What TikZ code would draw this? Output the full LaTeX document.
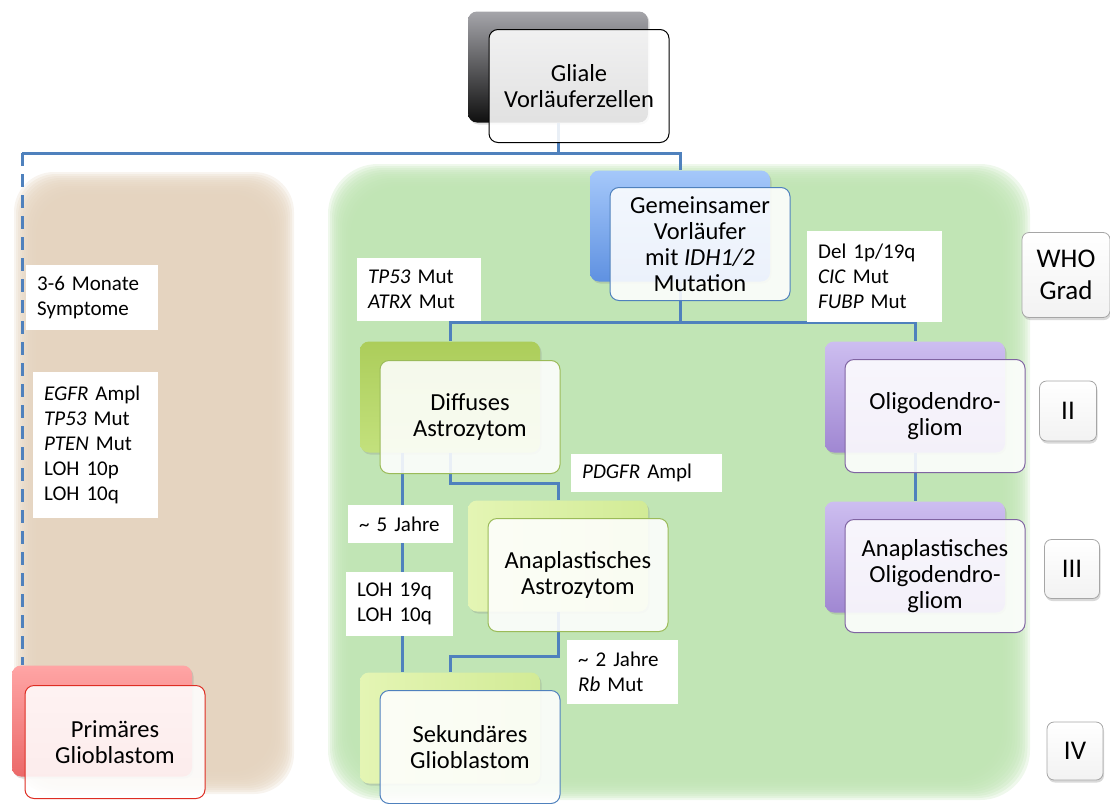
\documentclass[tikz,border=0pt]{standalone}
\usepackage{fontspec}
\setmainfont{Carlito}
\usetikzlibrary{calc,shadows}

\definecolor{linkblue}{RGB}{79,129,189}
\definecolor{beigebg}{RGB}{228,211,190}
\definecolor{greenbg}{RGB}{191,228,179}
\definecolor{grayT}{RGB}{165,165,170}
\definecolor{grayB}{RGB}{15,15,15}
\definecolor{blueT}{RGB}{165,200,250}
\definecolor{blueB}{RGB}{95,145,225}
\definecolor{oliveT}{RGB}{172,205,90}
\definecolor{oliveB}{RGB}{195,225,125}
\definecolor{limeT}{RGB}{210,235,150}
\definecolor{limeB}{RGB}{228,245,180}
\definecolor{lilaT}{RGB}{205,190,240}
\definecolor{lilaB}{RGB}{160,135,210}
\definecolor{redT}{RGB}{255,165,165}
\definecolor{redB}{RGB}{235,105,105}
\definecolor{oliveline}{RGB}{155,187,89}
\definecolor{lilaline}{RGB}{128,100,162}
\definecolor{redline}{RGB}{222,45,35}

\tikzset{
  backbox/.style={rounded corners=9pt, minimum width=180pt, minimum height=111pt, inner sep=0pt,
    drop shadow={opacity=0.25, shadow xshift=1.5pt, shadow yshift=-2pt}},
  frontbox/.style={draw=#1, line width=1pt, rounded corners=9pt, minimum width=180pt, minimum height=113pt,
    inner sep=2pt, fill=white, fill opacity=0.88, text opacity=1, align=center,
    font=\fontsize{24.5}{26}\selectfont},
  note/.style={fill=white, anchor=north west, align=left, inner xsep=11pt, inner ysep=0pt,
    font=\fontsize{21}{25}\selectfont},
  gradebox/.style={draw=gray!70, line width=0.8pt, rounded corners=7pt, top color=white, bottom color=gray!10,
    inner sep=0pt, align=center, font=\fontsize{27}{32}\selectfont,
    drop shadow={opacity=0.3, shadow xshift=1pt, shadow yshift=-2.5pt}},
  link/.style={draw=linkblue, line width=3pt}
}

\begin{document}
\begin{tikzpicture}[x=1pt,y=-1pt]
\useasboundingbox (0,0) rectangle (1110,803);

% soft backgrounds
\foreach \k in {0,...,11} {
  \fill[beigebg, fill opacity=0.25, rounded corners=40pt] (14+2*\k,172+2*\k) rectangle (294-2*\k,794-2*\k);
  \fill[greenbg, fill opacity=0.25, rounded corners=50pt] (328+2*\k,164+2*\k) rectangle (1030-2.5*\k,800-2*\k);
}

% back boxes
\node[backbox, top color=grayT, bottom color=grayB] (glialeB) at (558,67) {};
\node[backbox, top color=blueT, bottom color=blueB] (gemB) at (680,226) {};
\node[backbox, top color=oliveT, bottom color=oliveB] (diffB) at (450,397) {};
\node[backbox, left color=limeB, right color=limeT] (anaB) at (558,556) {};
\node[backbox, left color=limeB, right color=limeT] (sekB) at (450,728) {};
\node[backbox, top color=redT, bottom color=redB] (primB) at (102,721) {};
\node[backbox, top color=lilaT, bottom color=lilaB] (oliB) at (915,397) {};
\node[backbox, top color=lilaT, bottom color=lilaB] (aoliB) at (915,557) {};

% links
\coordinate (leftTurn) at (22,153);
\draw[link] (glialeB.south) -- ++(0,31) -| (gemB.north);
\draw[link] (glialeB.south) |- (leftTurn);
\draw[link, dash pattern=on 13pt off 8pt] (leftTurn) -- (primB.north -| leftTurn);
\draw[link] (gemB.south) -- ++(0,41) -| (diffB.north);
\draw[link] (gemB.south) -- ++(0,41) -| (oliB.north);
\draw[link] (diffB.south) -- ++(0,31) -| (anaB.north);
\draw[link] ($(diffB.south west)+(43,0)$) -- ($(sekB.north west)+(43,0)$);
\draw[link] (anaB.south) -- ++(0,45) -| (sekB.north);
\draw[link] (oliB.south) -- (aoliB.north);

% front boxes
\node[frontbox=black] (glialeF) at ($(glialeB)+(21,19)$) {Gliale\\Vorläuferzellen};
\node[frontbox=linkblue] (gemF) at ($(gemB)+(20,18)$) {Gemeinsamer\\Vorläufer\\mit \textit{IDH1/2}\\Mutation};
\node[frontbox=oliveline] (diffF) at ($(diffB)+(20,20)$) {Diffuses\\Astrozytom};
\node[frontbox=oliveline] (anaF) at ($(anaB)+(20,19)$) {Anaplastisches\\Astrozytom};
\node[frontbox=linkblue] (sekF) at ($(sekB)+(20,19)$) {Sekundäres\\Glioblastom};
\node[frontbox=redline] (primF) at ($(primB)+(13,21)$) {Primäres\\Glioblastom};
\node[frontbox=lilaline] (oliF) at ($(oliB)+(20,19)$) {Oligodendro-\\gliom};
\node[frontbox=lilaline] (aoliF) at ($(aoliB)+(20,19)$) {Anaplastisches\\Oligodendro-\\gliom};

% notes
\node[note, text width=110pt, minimum height=65pt] (sympN) at (26,265) {3-6 Monate\\Symptome};
\node[note, text width=103pt, minimum height=146pt] (egfrN) at (33,372) {\textit{EGFR} Ampl\\\textit{TP53} Mut\\\textit{PTEN} Mut\\LOH 10p\\LOH 10q};
\node[note, text width=102pt, minimum height=63pt] (tpN) at (357,258) {\textit{TP53} Mut\\\textit{ATRX} Mut};
\node[note, text width=113pt, minimum height=91pt] (delN) at (807,231) {Del 1p/19q\\\textit{CIC} Mut\\\textit{FUBP} Mut};
\node[note, text width=129pt, minimum height=38pt] (pdgfrN) at (571,454) {\textit{PDGFR} Ampl};
\node[note, text width=83pt, minimum height=38pt] (fiveN) at (348,505) {\textasciitilde{} 5 Jahre};
\node[note, text width=85pt, minimum height=64pt] (lohN) at (346,572) {LOH 19q\\LOH 10q};
\node[note, text width=89pt, minimum height=64pt] (twoN) at (567,640) {\textasciitilde{} 2 Jahre\\\textit{Rb} Mut};

% WHO grades
\node[gradebox, minimum width=88pt, minimum height=85pt] (who) at (1066,275) {WHO\\Grad};
\node[gradebox, minimum width=57pt, minimum height=60pt] (gII) at (1068,411) {II};
\node[gradebox, minimum width=55pt, minimum height=59pt] (gIII) at (1072,569) {III};
\node[gradebox, minimum width=56pt, minimum height=58pt] (gIV) at (1075,751) {IV};
\end{tikzpicture}
\end{document}
